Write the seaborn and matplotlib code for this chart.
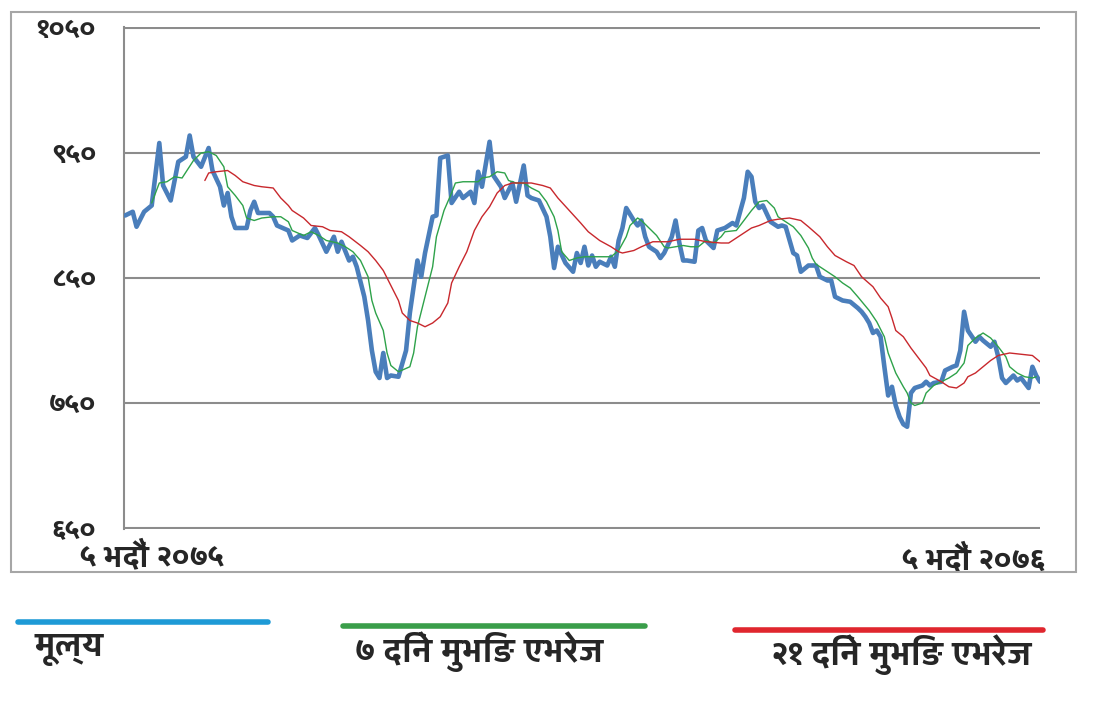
import matplotlib
matplotlib.use("Agg")
import matplotlib.pyplot as plt
import pandas as pd
import seaborn as sns
from matplotlib import font_manager
from matplotlib.ft2font import FT2Font
from matplotlib.lines import Line2D
from matplotlib.patches import Rectangle

# मूल्य (price) - trading day index and index value
price_day = [0, 2, 3, 5, 7, 9, 10, 12, 14, 16, 17, 18, 20, 22, 23, 25, 26, 27, 28, 29,
             32, 33, 34, 35, 38, 39, 40, 43, 44, 46, 48, 50, 51, 53, 55, 56, 57, 59, 60, 61,
             63, 64, 65, 66, 67, 68, 69, 70, 72, 74, 75, 77, 78, 79, 81, 82, 83, 85, 86, 88,
             89, 91, 92, 93, 94, 96, 97, 99, 100, 102, 103, 105, 106, 107, 109, 111, 112, 113, 114, 116,
             118, 119, 120, 121, 122, 123, 124, 125, 127, 128, 129, 130, 131, 132, 134, 135, 136, 137, 138, 140,
             141, 142, 144, 145, 146, 147, 148, 150, 151, 152, 153, 155, 156, 158, 160, 161, 163, 164, 165, 166,
             167, 168, 170, 172, 173, 174, 176, 177, 178, 180, 182, 183, 185, 186, 187, 189, 191, 193, 194, 195,
             196, 197, 198, 199, 200, 201, 202, 203, 204, 205, 206, 207, 208, 210, 211, 212, 213, 215, 216, 218,
             219, 220, 221, 222, 224, 225, 226, 228, 229, 230, 231, 232, 234, 235, 236, 238, 239, 240, 241]
price = [900, 903, 891, 903, 908, 958, 924, 912, 943, 947, 964, 947, 939, 954, 936, 923, 908, 918, 899, 890,
         890, 904, 911, 902, 902, 899, 892, 888, 880, 884, 882, 890, 884, 871, 883, 871, 879, 864, 867, 859,
         835, 816, 792, 775, 770, 790, 770, 772, 771, 792, 822, 864, 851, 870, 899, 900, 946, 948, 910, 919,
         914, 919, 910, 935, 923, 959, 932, 923, 914, 926, 911, 940, 916, 914, 912, 899, 883, 858, 875, 862,
         855, 870, 862, 875, 860, 868, 859, 863, 860, 867, 859, 880, 890, 906, 896, 892, 896, 883, 875, 871,
         866, 870, 883, 896, 878, 864, 864, 863, 888, 890, 880, 874, 888, 890, 894, 892, 914, 935, 931, 911,
         906, 908, 895, 891, 892, 891, 870, 868, 855, 860, 860, 851, 848, 848, 835, 832, 831, 826, 823, 819,
         814, 806, 808, 803, 779, 756, 763, 748, 739, 733, 731, 758, 762, 764, 767, 764, 766, 767, 776, 779,
         780, 792, 823, 808, 799, 803, 800, 795, 799, 787, 770, 766, 772, 768, 770, 762, 779, 772, 767]

# ७ दिने मुभिङ एभरेज
ma7_day = [7, 9, 11, 13, 15, 18, 20, 22, 24, 26, 27, 29, 31, 32, 34, 36, 39, 41, 43, 44,
           47, 49, 51, 53, 56, 58, 60, 62, 64, 65, 66, 68, 69, 70, 72, 75, 76, 77, 79, 81,
           82, 84, 86, 87, 89, 93, 94, 96, 98, 100, 101, 103, 105, 107, 109, 111, 113, 114, 115, 117,
           119, 121, 124, 128, 130, 132, 133, 135, 136, 138, 140, 142, 143, 147, 149, 151, 153, 155, 157, 158,
           161, 163, 165, 167, 169, 171, 172, 174, 176, 178, 180, 181, 182, 185, 187, 189, 191, 193, 196, 198,
           200, 201, 203, 205, 206, 207, 208, 210, 211, 213, 215, 217, 219, 221, 222, 224, 226, 228, 230, 232,
           233, 235, 237, 239, 240]
ma7 = [910, 926, 927, 931, 930, 944, 950, 951, 948, 939, 923, 916, 908, 898, 896, 898, 899, 899, 895, 888,
       884, 887, 884, 880, 878, 875, 871, 864, 851, 832, 822, 808, 790, 780, 775, 779, 790, 811, 835, 859,
       883, 904, 918, 926, 927, 927, 930, 931, 935, 934, 928, 926, 926, 922, 919, 911, 899, 888, 871, 864,
       866, 867, 867, 867, 872, 883, 892, 898, 896, 890, 884, 875, 874, 876, 875, 875, 880, 878, 883, 887,
       888, 896, 904, 911, 912, 906, 899, 895, 891, 884, 874, 866, 861, 855, 851, 846, 842, 835, 824, 815,
       803, 790, 774, 763, 758, 750, 748, 750, 758, 764, 767, 770, 774, 782, 796, 802, 806, 802, 795, 787,
       779, 774, 771, 770, 771]

# २१ दिने मुभिङ एभरेज
ma21_day = [21, 22, 24, 27, 29, 31, 34, 36, 39, 41, 43, 44, 47, 49, 52, 54, 57, 59, 62, 64,
            66, 68, 70, 72, 73, 75, 77, 79, 81, 83, 85, 86, 88, 90, 92, 94, 96, 98, 100, 102,
            107, 110, 112, 114, 117, 120, 122, 125, 128, 130, 131, 134, 136, 139, 143, 146, 150, 153, 157, 159,
            162, 165, 167, 170, 172, 175, 178, 180, 183, 185, 187, 190, 192, 194, 197, 199, 201, 202, 203, 205,
            207, 209, 211, 212, 215, 217, 219, 221, 222, 224, 226, 228, 230, 233, 236, 239, 241]
ma21 = [928, 934, 935, 936, 932, 927, 924, 923, 922, 914, 908, 904, 898, 892, 891, 888, 887, 883, 876, 871,
        864, 856, 844, 832, 822, 816, 814, 811, 814, 819, 830, 846, 859, 871, 888, 899, 907, 918, 924, 926,
        926, 924, 922, 914, 904, 894, 887, 880, 875, 871, 870, 872, 875, 879, 879, 881, 881, 879, 878, 878,
        884, 890, 892, 896, 897, 898, 896, 891, 883, 875, 868, 863, 860, 851, 843, 834, 827, 818, 808, 803,
        794, 786, 778, 772, 767, 763, 762, 766, 771, 774, 779, 784, 788, 790, 789, 788, 783]

y_ticks = [650, 750, 850, 950, 1050]
y_tick_labels = ["६५०", "७५०", "८५०", "९५०", "१०५०"]
start_label = "५ भदौं २०७५"
end_label = "५ भदौं २०७६"
legend_labels = ["मूल्य", "७ दिने मुभिङ एभरेज", "२१ दिने मुभिङ एभरेज"]


def find_devanagari_font():
    # any installed font with Devanagari digits, bold face preferred
    found = []
    for f in font_manager.fontManager.ttflist:
        try:
            if 0x0967 in FT2Font(f.fname).get_charmap():
                w = f.weight
                if isinstance(w, str):
                    w = font_manager.weight_dict.get(w, 400)
                found.append((w >= 600, f.name))
        except Exception:
            pass
    if not found:
        return None
    found.sort(reverse=True)
    return found[0][1]


sns.set_style("white")
deva = find_devanagari_font()
plt.rcParams['font.family'] = ([deva] if deva else []) + ['DejaVu Sans']

fig = plt.figure(figsize=(11, 7.27), dpi=100)
ax = fig.add_axes([124 / 1100, 1 - 529.25 / 727, 916 / 1100, 502.5 / 727])

price_df = pd.DataFrame({'day': price_day, 'value': price})
ma7_df = pd.DataFrame({'day': ma7_day, 'value': ma7})
ma21_df = pd.DataFrame({'day': ma21_day, 'value': ma21})

sns.lineplot(data=price_df, x='day', y='value', ax=ax, color='#4a7ebb', lw=3.3, zorder=3)
sns.lineplot(data=ma7_df, x='day', y='value', ax=ax, color='#2ea24a', lw=1.0, zorder=4)
sns.lineplot(data=ma21_df, x='day', y='value', ax=ax, color='#c8282d', lw=1.0, zorder=5)

ax.set_xlim(-0.3, 241)
ax.set_ylim(649, 1051)
ax.set_yticks(y_ticks)
ax.set_yticklabels(y_tick_labels, fontsize=21, fontweight='bold')
ax.set_xticks([])
ax.set_xlabel('')
ax.set_ylabel('')
ax.grid(axis='y', color='#8c8c8c', lw=1.5)
ax.tick_params(axis='y', length=10, width=1.5, color='#8c8c8c', pad=10)
for side in ['top', 'right', 'bottom']:
    ax.spines[side].set_visible(False)
ax.spines['left'].set_color('#8c8c8c')
ax.spines['left'].set_linewidth(1.5)

# date labels at both ends of the x axis
ax.text(-0.048, -0.056, start_label, transform=ax.transAxes, ha='left', va='center',
        fontsize=23, fontweight='bold')
ax.text(1.005, -0.062, end_label, transform=ax.transAxes, ha='right', va='center',
        fontsize=23, fontweight='bold')

# outer frame of the chart
fig.patches.append(Rectangle((11 / 1100, 1 - 572 / 727), 1065 / 1100, 560 / 727,
                             transform=fig.transFigure, fill=False, ec='#a6a6a6', lw=1.5))

# legend laid out below the chart
legend_colors = ['#1e9ad6', '#3a9e4a', '#e0262e']
legend_lines = [(18, 268, 622), (343, 645, 626), (735, 1043, 630)]
legend_text_pos = [(35, 650), (355, 652), (772, 655)]
for (x0, x1, y), color in zip(legend_lines, legend_colors):
    fig.add_artist(Line2D([x0 / 1100, x1 / 1100], [1 - y / 727] * 2, color=color, lw=4,
                          transform=fig.transFigure))
for (x, y), label in zip(legend_text_pos, legend_labels):
    fig.text(x / 1100, 1 - y / 727, label, ha='left', va='center', fontsize=25, fontweight='bold')

fig.savefig('out.png', dpi=100)
plt.close(fig)
